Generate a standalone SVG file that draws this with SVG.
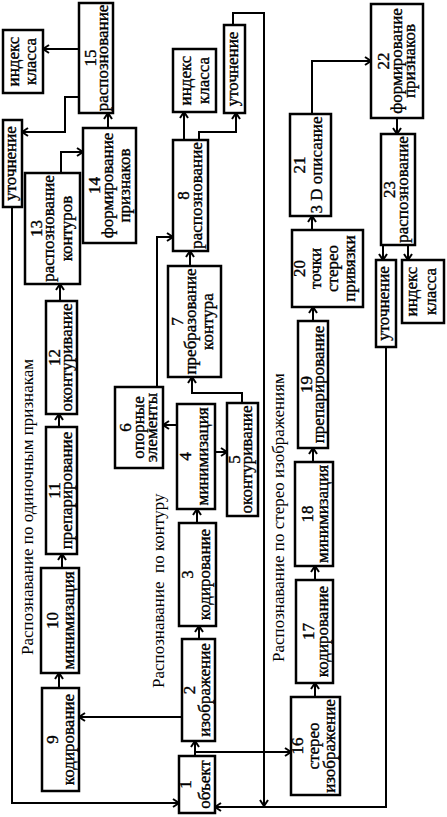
<svg xmlns="http://www.w3.org/2000/svg" width="447" height="817" viewBox="0 0 447 817">
<style>
rect.b{fill:#fff;stroke:#000;stroke-width:2.5}
.c path{fill:none;stroke:#000;stroke-width:2;marker-end:url(#ah)}
text{font-family:"Liberation Serif","Times New Roman",serif;fill:#000}
.t{font-size:17px;text-anchor:middle;stroke:#000;stroke-width:0.35}
.s{font-size:17px}
</style>
<defs>
<marker id="ah" markerUnits="userSpaceOnUse" viewBox="0 0 8 10" markerWidth="8" markerHeight="10" refX="7" refY="5" orient="auto">
<path d="M1,1 L7,5 L1,9" fill="none" stroke="#000" stroke-width="2"/>
</marker>
</defs>
<rect width="447" height="817" fill="#fff"/>
<g id="labels">
<text class="s" transform="translate(33,655) rotate(-90)">Распознавание по одиночным признакам</text>
<text class="s" xml:space="preserve" transform="translate(164,688) rotate(-90)">Распознавание  по контуру</text>
<text class="s" transform="translate(284,662) rotate(-90)">Распознавание по стерео изображениям</text>
</g>
<g class="c" id="connectors">
<path d="M59,688V673"/>
<path d="M62,568V554"/>
<path d="M59,427V414"/>
<path d="M60,301V284"/>
<path d="M61,173V152H83"/>
<path d="M108,128V113"/>
<path d="M79,49H43"/>
<path d="M79,97H65V132H22"/>
<path d="M12,207V803H179"/>
<path d="M195,756V741"/>
<path d="M195,752H291"/>
<path d="M182,717H79"/>
<path d="M199,639V626"/>
<path d="M197,523V509"/>
<path d="M215,452H227"/>
<path d="M177,425H163"/>
<path d="M157,387V237H173"/>
<path d="M242,403V393H192V377"/>
<path d="M190,266V251"/>
<path d="M184,140V112"/>
<path d="M199,140V132H236V113"/>
<path d="M233,25V13H264V806"/>
<path d="M315,697V683"/>
<path d="M315,580V566"/>
<path d="M313,462V448"/>
<path d="M313,321V307"/>
<path d="M312,230V216"/>
<path d="M312,114V61H371"/>
<path d="M397,118V134"/>
<path d="M383,245V260"/>
<path d="M408,245V260"/>
<path d="M386,347V807H215"/>
</g>
<g id="n1"><rect class="b" x="179" y="756" width="36" height="57"/><text class="t" transform="translate(191,784.5) rotate(-90)">1</text><text class="t" transform="translate(210,784.5) rotate(-90)">объект</text></g>
<g id="n2"><rect class="b" x="182" y="639" width="33" height="102"/><text class="t" transform="translate(195,690) rotate(-90)">2</text><text class="t" transform="translate(210,690) rotate(-90)">изображение</text></g>
<g id="n3"><rect class="b" x="179" y="523" width="37" height="103"/><text class="t" transform="translate(193,574.5) rotate(-90)">3</text><text class="t" transform="translate(210,574.5) rotate(-90)">кодирование</text></g>
<g id="n4"><rect class="b" x="177" y="404" width="38" height="105"/><text class="t" transform="translate(191,456.5) rotate(-90)">4</text><text class="t" transform="translate(208,456.5) rotate(-90)">минимизация</text></g>
<g id="n5"><rect class="b" x="227" y="403" width="31" height="113"/><text class="t" transform="translate(240,459.5) rotate(-90)">5</text><text class="t" transform="translate(252,459.5) rotate(-90)">оконтуривание</text></g>
<g id="n6"><rect class="b" x="115" y="387" width="48" height="81"/><text class="t" transform="translate(131,427.5) rotate(-90)">6</text><text class="t" transform="translate(144,427.5) rotate(-90)">опорные</text><text class="t" transform="translate(157,427.5) rotate(-90)">элементы</text></g>
<g id="n7"><rect class="b" x="168" y="266" width="53" height="111"/><text class="t" transform="translate(183,321.5) rotate(-90)">7</text><text class="t" transform="translate(196,321.5) rotate(-90)">пребразование</text><text class="t" transform="translate(213,321.5) rotate(-90)">контура</text></g>
<g id="n8"><rect class="b" x="173" y="140" width="35" height="111"/><text class="t" transform="translate(189,195.5) rotate(-90)">8</text><text class="t" transform="translate(202,195.5) rotate(-90)">распознование</text></g>
<g id="n8i"><rect class="b" x="173" y="49" width="43" height="63"/><text class="t" transform="translate(191,80.5) rotate(-90)">индекс</text><text class="t" transform="translate(209,80.5) rotate(-90)">класса</text></g>
<g id="n8u"><rect class="b" x="224" y="25" width="21" height="88"/><text class="t" transform="translate(238,69) rotate(-90)">уточнение</text></g>
<g id="n9"><rect class="b" x="42" y="688" width="37" height="103"/><text class="t" transform="translate(58,739.5) rotate(-90)">9</text><text class="t" transform="translate(74,739.5) rotate(-90)">кодирование</text></g>
<g id="n10"><rect class="b" x="41" y="568" width="38" height="105"/><text class="t" transform="translate(58,620.5) rotate(-90)">10</text><text class="t" transform="translate(74,620.5) rotate(-90)">минимизация</text></g>
<g id="n11"><rect class="b" x="46" y="427" width="31" height="127"/><text class="t" transform="translate(60,490.5) rotate(-90)">11</text><text class="t" transform="translate(72,490.5) rotate(-90)">препарирование</text></g>
<g id="n12"><rect class="b" x="46" y="301" width="31" height="113"/><text class="t" transform="translate(60,357.5) rotate(-90)">12</text><text class="t" transform="translate(72,357.5) rotate(-90)">оконтуривание</text></g>
<g id="n13"><rect class="b" x="25" y="173" width="55" height="111"/><text class="t" transform="translate(42,228.5) rotate(-90)">13</text><text class="t" transform="translate(54,228.5) rotate(-90)">распознование</text><text class="t" transform="translate(72,228.5) rotate(-90)">контуров</text></g>
<g id="n14"><rect class="b" x="83" y="128" width="53" height="115"/><text class="t" transform="translate(100,185.5) rotate(-90)">14</text><text class="t" transform="translate(113,185.5) rotate(-90)">формирование</text><text class="t" transform="translate(130,185.5) rotate(-90)">признаков</text></g>
<g id="n15"><rect class="b" x="79" y="3" width="34" height="110"/><text class="t" transform="translate(96,58) rotate(-90)">15</text><text class="t" transform="translate(108,58) rotate(-90)">распознование</text></g>
<g id="n15i"><rect class="b" x="3" y="30" width="40" height="63"/><text class="t" transform="translate(19,61.5) rotate(-90)">индекс</text><text class="t" transform="translate(36,61.5) rotate(-90)">класса</text></g>
<g id="n15u"><rect class="b" x="3" y="120" width="19" height="87"/><text class="t" transform="translate(16,163.5) rotate(-90)">уточнение</text></g>
<g id="n16"><rect class="b" x="291" y="697" width="49" height="98"/><text class="t" transform="translate(303,746) rotate(-90)">16</text><text class="t" transform="translate(319,746) rotate(-90)">стерео</text><text class="t" transform="translate(335,746) rotate(-90)">изображение</text></g>
<g id="n17"><rect class="b" x="296" y="580" width="37" height="103"/><text class="t" transform="translate(314,631.5) rotate(-90)">17</text><text class="t" transform="translate(328,631.5) rotate(-90)">кодирование</text></g>
<g id="n18"><rect class="b" x="295" y="462" width="38" height="104"/><text class="t" transform="translate(313,514) rotate(-90)">18</text><text class="t" transform="translate(328,514) rotate(-90)">минимизация</text></g>
<g id="n19"><rect class="b" x="298" y="321" width="30" height="127"/><text class="t" transform="translate(312,384.5) rotate(-90)">19</text><text class="t" transform="translate(324,384.5) rotate(-90)">препарирование</text></g>
<g id="n20"><rect class="b" x="292" y="230" width="71" height="77"/><text class="t" transform="translate(305,268.5) rotate(-90)">20</text><text class="t" transform="translate(321,268.5) rotate(-90)">точки</text><text class="t" transform="translate(338,268.5) rotate(-90)">стерео</text><text class="t" transform="translate(355,268.5) rotate(-90)">привязки</text></g>
<g id="n21"><rect class="b" x="290" y="114" width="41" height="102"/><text class="t" transform="translate(305,165) rotate(-90)">21</text><text class="t" transform="translate(322,165) rotate(-90)">3 D описание</text></g>
<g id="n22"><rect class="b" x="371" y="4" width="52" height="114"/><text class="t" transform="translate(389,61) rotate(-90)">22</text><text class="t" transform="translate(402,61) rotate(-90)">формирование</text><text class="t" transform="translate(415,61) rotate(-90)">признаков</text></g>
<g id="n23"><rect class="b" x="381" y="134" width="34" height="111"/><text class="t" transform="translate(395,189.5) rotate(-90)">23</text><text class="t" transform="translate(408,189.5) rotate(-90)">распознование</text></g>
<g id="n23u"><rect class="b" x="376" y="260" width="20" height="87"/><text class="t" transform="translate(389,303.5) rotate(-90)">уточнение</text></g>
<g id="n23i"><rect class="b" x="402" y="260" width="42" height="63"/><text class="t" transform="translate(417,291.5) rotate(-90)">индекс</text><text class="t" transform="translate(436,291.5) rotate(-90)">класса</text></g>
</svg>
